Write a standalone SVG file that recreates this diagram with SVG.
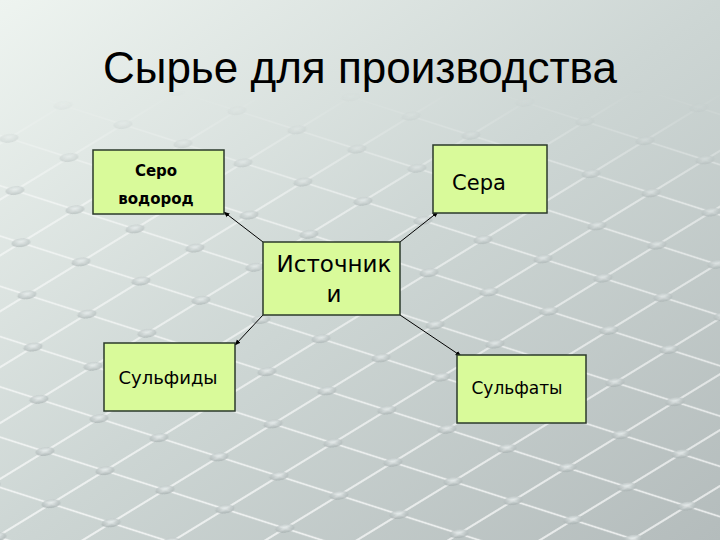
<svg xmlns="http://www.w3.org/2000/svg" width="720" height="540" viewBox="0 0 720 540">
<defs>
<linearGradient id="bg" x1="0" y1="0" x2="1" y2="1">
<stop offset="0" stop-color="#eef4f0"/>
<stop offset="0.5" stop-color="#cdd6d4"/>
<stop offset="1" stop-color="#b4bcbc"/>
</linearGradient>
<radialGradient id="dot" cx="0.4" cy="0.4" r="0.6">
<stop offset="0" stop-color="#e8eeee"/>
<stop offset="1" stop-color="#a9b2b2"/>
</radialGradient>
<pattern id="grid" width="60" height="60" patternUnits="userSpaceOnUse" patternTransform="matrix(1 0.32 -0.9 0.55 0 60)">
<path d="M0 30H60M30 0V60" stroke="#ffffff" stroke-width="2.5" stroke-opacity="0.7" fill="none"/>
<circle cx="30" cy="30" r="7" fill="url(#dot)" opacity="0.8"/>
</pattern>
<linearGradient id="fade" x1="0" y1="0" x2="0" y2="1">
<stop offset="0" stop-color="#fff" stop-opacity="0"/>
<stop offset="0.25" stop-color="#fff" stop-opacity="0.7"/>
<stop offset="1" stop-color="#fff" stop-opacity="1"/>
</linearGradient>
<mask id="m"><rect x="0" y="90" width="720" height="450" fill="url(#fade)"/></mask>
<marker id="arr" viewBox="0 0 10 10" refX="9" refY="5" markerWidth="6" markerHeight="6" orient="auto">
<path d="M0 1L10 5L0 9z" fill="#000"/>
</marker>
</defs>
<style>
.box{fill:#d9fa9a;stroke:#2b3a2b;stroke-width:1.5}
.t{font-family:"DejaVu Sans","Noto Sans",sans-serif;fill:#000;text-anchor:middle}
.c{stroke:#000;stroke-width:1;fill:none;marker-end:url(#arr)}
</style>
<rect width="720" height="540" fill="url(#bg)"/>
<rect x="0" y="90" width="720" height="450" fill="url(#grid)" mask="url(#m)"/>
<text x="360" y="83" font-family="Liberation Sans, Arial, sans-serif" font-size="44" fill="#000" text-anchor="middle">Сырье для производства</text>
<g id="connectors">
<line class="c" x1="263" y1="242" x2="224" y2="212"/>
<line class="c" x1="400" y1="242" x2="438" y2="212"/>
<line class="c" x1="263" y1="315" x2="235" y2="345"/>
<line class="c" x1="400" y1="315" x2="461" y2="356"/>
</g>
<g id="node-serovodorod">
<rect class="box" x="93" y="150" width="131" height="64"/>
<text class="t" x="156" y="176" font-size="15" font-weight="bold">Серо</text>
<text class="t" x="156" y="204" font-size="15" font-weight="bold">водород</text>
</g>
<g id="node-sera">
<rect class="box" x="433" y="145" width="114" height="68"/>
<text class="t" x="479" y="190" font-size="21">Сера</text>
</g>
<g id="node-istochniki">
<rect class="box" x="263" y="242" width="137" height="73"/>
<text class="t" x="334" y="272" font-size="23">Источник</text>
<text class="t" x="334" y="302" font-size="23">и</text>
</g>
<g id="node-sulfidy">
<rect class="box" x="104" y="343" width="131" height="68"/>
<text class="t" x="168" y="384" font-size="18">Сульфиды</text>
</g>
<g id="node-sulfaty">
<rect class="box" x="457" y="355" width="129" height="68"/>
<text class="t" x="517" y="394" font-size="17">Сульфаты</text>
</g>
</svg>
